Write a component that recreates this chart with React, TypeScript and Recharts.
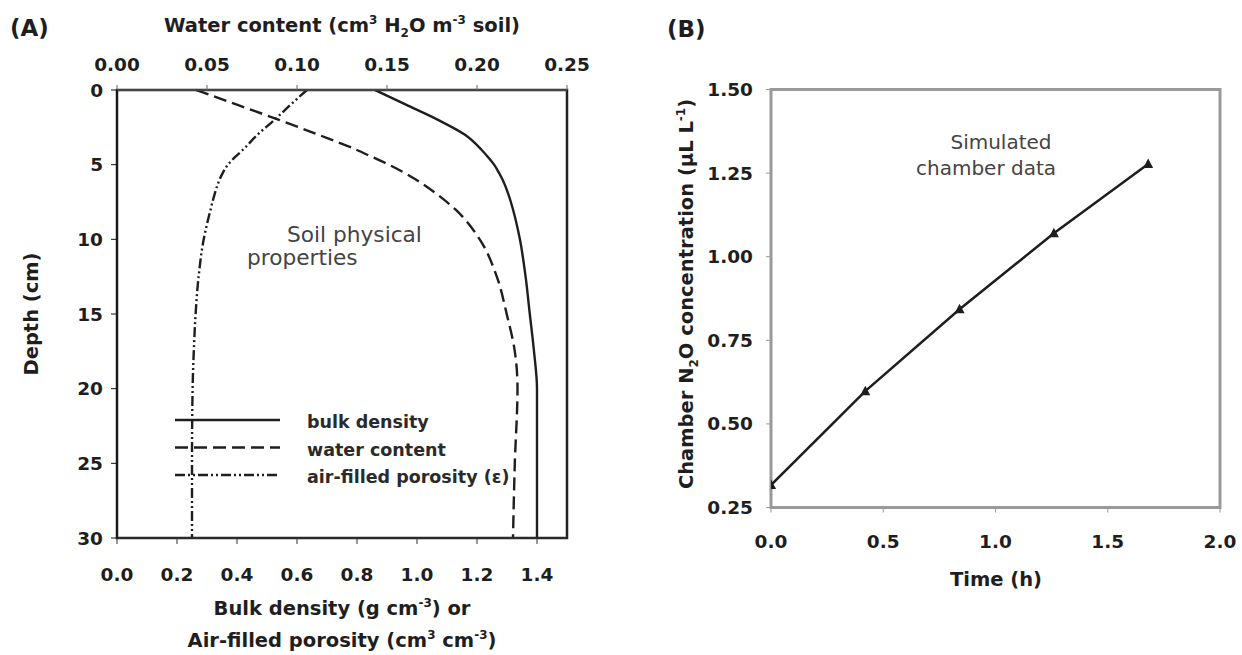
import React from 'react'
import { LineChart, Line, XAxis, YAxis, ReferenceArea, Label, Legend } from 'recharts'

// Panel A: soil profile
const depths = [0, 1, 2, 3, 4, 4.5, 5, 5.5, 6, 7, 8, 10, 12.5, 15, 17.5, 20, 25, 30]
const bulkDensity = [0.86, 0.965, 1.07, 1.16, 1.215, 1.237, 1.257, 1.272, 1.285, 1.305, 1.32, 1.343, 1.362, 1.376, 1.39, 1.4, 1.4, 1.4]
const waterContent = [0.044, 0.067, 0.09, 0.112, 0.133, 0.142, 0.151, 0.159, 0.166, 0.178, 0.188, 0.2015, 0.211, 0.2165, 0.221, 0.2225, 0.221, 0.22]
const airPorosity = [0.633, 0.578, 0.525, 0.468, 0.42, 0.393, 0.37, 0.354, 0.342, 0.325, 0.312, 0.289, 0.272, 0.262, 0.256, 0.252, 0.25, 0.25]
const bulkTicks = [0, 0.2, 0.4, 0.6, 0.8, 1.0, 1.2, 1.4]
const waterTicks = [0, 0.05, 0.1, 0.15, 0.2, 0.25]
const depthTicks = [0, 5, 10, 15, 20, 25, 30]

// Panel B: chamber N2O
const times = [0, 0.42, 0.84, 1.26, 1.68]
const n2o = [0.317, 0.598, 0.843, 1.07, 1.277]
const timeTicks = [0, 0.5, 1, 1.5, 2]
const concTicks = [0.25, 0.5, 0.75, 1, 1.25, 1.5]

const profile = depths.map((d, i) => ({ depth: d, bulk: bulkDensity[i], water: waterContent[i], air: airPorosity[i] }))
const chamber = times.map((t, i) => ({ time: t, conc: n2o[i] }))

const series = [
  { key: 'bulk', name: 'bulk density', axis: 'bd', dash: undefined },
  { key: 'water', name: 'water content', axis: 'wc', dash: '13 6' },
  { key: 'air', name: 'air-filled porosity (ε)', axis: 'bd', dash: '10 3 2 3 2 3' },
]

const ink = '#1e1e1e'
const tickText = { fontSize: 18.5, fontWeight: 700, fill: ink }
const titleSize = 19.5

const ProfileLegend = () => (
  <svg width={400} height={90}>
    {series.map((s, i) => (
      <g key={s.key}>
        <line x1={5} x2={110} y1={15 + i * 27.5} y2={15 + i * 27.5} stroke={ink} strokeWidth={2.4} strokeDasharray={s.dash} />
        <text x={137} y={23 + i * 27.5} fontSize={17.5} fontWeight={700} fill="#2a2a2a">{s.name}</text>
      </g>
    ))}
  </svg>
)

const TopTitle = () => (
  <g fill={ink} fontWeight={700}>
    <text x={10} y={36} fontSize={23}>(A)</text>
    <text x={342} y={31.5} textAnchor="middle" fontSize={titleSize}>
      Water content (cm<tspan dy={-8} fontSize={12}>3</tspan>
      <tspan dy={8}> H</tspan><tspan dy={5} fontSize={12}>2</tspan>
      <tspan dy={-5}>O m</tspan><tspan dy={-8} fontSize={12}>-3</tspan>
      <tspan dy={8}> soil)</tspan>
    </text>
  </g>
)

const BottomTitle = () => (
  <g fill={ink} fontWeight={700} fontSize={titleSize}>
    <text x={342} y={615} textAnchor="middle">
      Bulk density (g cm<tspan dy={-8} fontSize={12}>-3</tspan><tspan dy={8}>) or</tspan>
    </text>
    <text x={342} y={647} textAnchor="middle">
      Air-filled porosity (cm<tspan dy={-8} fontSize={12}>3</tspan><tspan dy={8}> cm</tspan>
      <tspan dy={-8} fontSize={12}>-3</tspan><tspan dy={8}>)</tspan>
    </text>
  </g>
)

const DepthTitle = () => (
  <text x={38} y={314} transform="rotate(-90 38 314)" textAnchor="middle" fontSize={titleSize} fontWeight={700} fill={ink}>
    Depth (cm)
  </text>
)

const SoilNote = () => (
  <g fontSize={21.7} fill="#444">
    <text x={287} y={242}>Soil physical</text>
    <text x={247} y={265}>properties</text>
  </g>
)

const ChamberYTitle = () => (
  <g fill={ink} fontWeight={700}>
    <text x={47} y={37} fontSize={23}>(B)</text>
    <text x={73} y={294} transform="rotate(-90 73 294)" textAnchor="middle" fontSize={titleSize}>
      Chamber N<tspan dy={5} fontSize={12}>2</tspan>
      <tspan dy={-5}>O concentration (µL L</tspan><tspan dy={-8} fontSize={12}>-1</tspan>
      <tspan dy={8}>)</tspan>
    </text>
  </g>
)

const ChamberXTitle = () => (
  <text x={376} y={586} textAnchor="middle" fontSize={titleSize} fontWeight={700} fill={ink}>Time (h)</text>
)

const ChamberNote = () => (
  <g fontSize={20} fill="#444" textAnchor="middle">
    <text x={381} y={149}>Simulated</text>
    <text x={366} y={175}>chamber data</text>
  </g>
)

const triangle = (p: any) => (
  <polygon
    key={`tri-${p.index}`}
    points={`${p.cx},${p.cy - 5.5} ${p.cx - 5},${p.cy + 4} ${p.cx + 5},${p.cy + 4}`}
    fill={ink}
  />
)

export default function App() {
  return (
    <div style={{ position: 'absolute', left: 0, top: 0, width: 1242, height: 655, background: '#fff', fontFamily: '"DejaVu Sans", Verdana, sans-serif' }}>
      <div style={{ position: 'absolute', left: 0, top: 0 }}>
        <LineChart layout="vertical" width={620} height={655} data={profile} margin={{ top: 10, right: 53, bottom: 10, left: 10 }}>
          <XAxis xAxisId="bd" type="number" orientation="bottom" domain={[0, 1.5]} ticks={bulkTicks} allowDataOverflow
            tickFormatter={(v: number) => v.toFixed(1)} height={107} tickSize={6} tickMargin={24} tick={tickText} stroke="#333">
            <Label content={() => <BottomTitle />} />
          </XAxis>
          <XAxis xAxisId="wc" type="number" orientation="top" domain={[0, 0.25]} ticks={waterTicks} allowDataOverflow
            tickFormatter={(v: number) => v.toFixed(2)} height={80} tickSize={5} tickMargin={14} tick={tickText} stroke="#666">
            <Label content={() => <TopTitle />} />
          </XAxis>
          <YAxis yAxisId="d" type="number" dataKey="depth" domain={[0, 30]} ticks={depthTicks}
            width={107} tickSize={6} tickMargin={8} tick={tickText} stroke="#111">
            <Label content={() => <DepthTitle />} />
          </YAxis>
          <ReferenceArea xAxisId="bd" yAxisId="d" x1={0} x2={1.5} y1={0} y2={30} fill="none" stroke="#222" strokeWidth={2.5} ifOverflow="visible">
            <Label content={() => <SoilNote />} />
          </ReferenceArea>
          {series.map((s) => (
            <Line key={s.key} xAxisId={s.axis} yAxisId="d" dataKey={s.key} name={s.name} type="monotone"
              stroke={ink} strokeWidth={2.4} strokeDasharray={s.dash} dot={false} isAnimationActive={false} />
          ))}
          <Legend layout="vertical" align="center" verticalAlign="middle" content={() => <ProfileLegend />}
            wrapperStyle={{ position: 'absolute', left: 170, top: 405, width: 400, height: 90 }} />
        </LineChart>
      </div>
      <div style={{ position: 'absolute', left: 620, top: 0 }}>
        <LineChart width={622} height={655} data={chamber} margin={{ top: 89.5, right: 22, bottom: 10, left: 10 }}>
          <XAxis type="number" dataKey="time" domain={[0, 2]} ticks={timeTicks} allowDataOverflow
            tickFormatter={(v: number) => v.toFixed(1)} height={137.5} tickSize={5} tickMargin={22} tick={tickText} stroke="#999">
            <Label content={() => <ChamberXTitle />} />
          </XAxis>
          <YAxis type="number" domain={[0.25, 1.5]} ticks={concTicks} allowDataOverflow
            tickFormatter={(v: number) => v.toFixed(2)} width={141} tickSize={5} tickMargin={13} tick={tickText} stroke="#999">
            <Label content={() => <ChamberYTitle />} />
          </YAxis>
          <ReferenceArea x1={0} x2={2} y1={0.25} y2={1.5} fill="none" stroke="#9a9a9a" strokeWidth={3} ifOverflow="visible">
            <Label content={() => <ChamberNote />} />
          </ReferenceArea>
          <Line dataKey="conc" type="linear" stroke={ink} strokeWidth={2.5} dot={triangle} isAnimationActive={false} />
        </LineChart>
      </div>
    </div>
  )
}
